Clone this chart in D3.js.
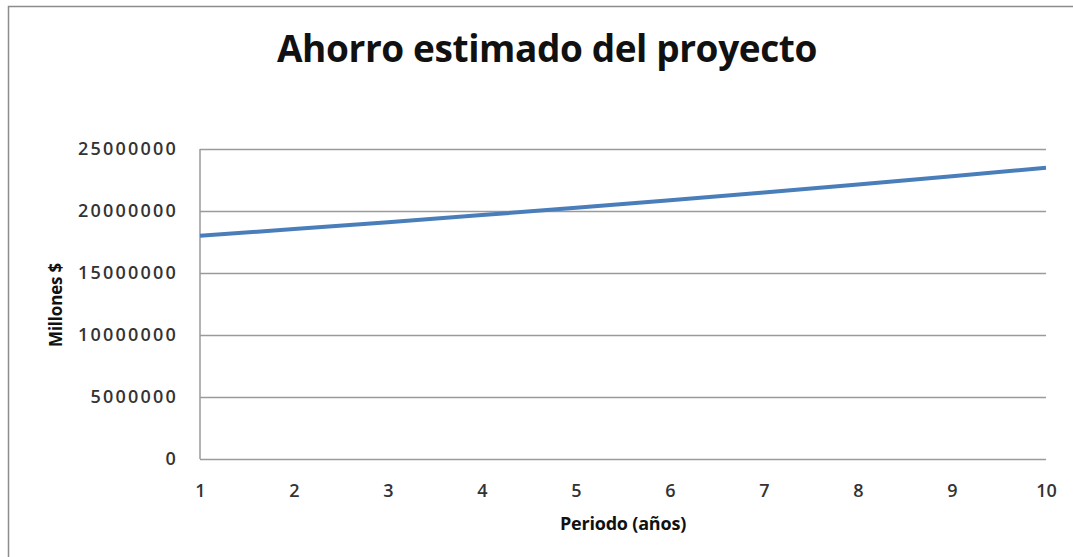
<!DOCTYPE html>
<html><head><meta charset="utf-8">
<script src="https://cdn.jsdelivr.net/npm/d3@7"></script>
<style>body{margin:0;background:#fff;} svg{display:block;}</style>
</head><body>
<svg id="c" width="1073" height="557"></svg>
<script>
const periods = [1,2,3,4,5,6,7,8,9,10];
const savings = [18000000,18540000,19100000,19670000,20260000,20870000,21490000,22140000,22800000,23490000];
const yTicks = [0,5000000,10000000,15000000,20000000,25000000];
const titleText = "Ahorro estimado del proyecto";
const xLabel = "Periodo (años)";
const yLabel = "Millones $";

const svg = d3.select("#c");
const m = {l:200, r:1046, t:149, b:459};
const x = d3.scaleLinear().domain([1,10]).range([m.l,m.r]);
const y = d3.scaleLinear().domain([0,25000000]).range([m.b,m.t]);

// outer frame
svg.append("path").attr("d","M8.5,557 L8.5,6.5 L1073,6.5").attr("fill","none").attr("stroke","#8c8c8c").attr("stroke-width",1.5);

svg.append("text").attr("x",547).attr("y",62).attr("text-anchor","middle")
  .attr("font-family","Open Sans, sans-serif").attr("font-size",37).attr("font-weight",700)
  .attr("fill","#111").attr("letter-spacing",-0.4).text(titleText);

// gridlines
const ya = d3.axisLeft(y).tickValues(yTicks).tickSize(-(m.r-m.l)).tickPadding(22).tickFormat(d3.format("d"));
const gy = svg.append("g").attr("transform",`translate(${m.l},0)`).call(ya);
gy.select(".domain").remove();
gy.selectAll(".tick line").attr("stroke","#9a9a9a").attr("stroke-width",1.5);
gy.selectAll(".tick text").attr("font-family","Open Sans, sans-serif").attr("font-size",18).attr("fill","#333").attr("font-weight",600).attr("letter-spacing",2.2);

// left axis line
svg.append("line").attr("x1",m.l).attr("x2",m.l).attr("y1",m.t).attr("y2",m.b).attr("stroke","#9a9a9a").attr("stroke-width",1.5);

const xa = d3.axisBottom(x).tickValues(periods).tickSize(0).tickPadding(25).tickFormat(d3.format("d"));
const gx = svg.append("g").attr("transform",`translate(0,${m.b})`).call(xa);
gx.select(".domain").remove();
gx.selectAll(".tick text").attr("font-family","Open Sans, sans-serif").attr("font-size",18).attr("fill","#333").attr("font-weight",600);

const line = d3.line().x((d,i)=>x(periods[i])).y(d=>y(d));
svg.append("path").datum(savings).attr("d",line).attr("fill","none").attr("stroke","#4a7ebb").attr("stroke-width",4);

svg.append("text").attr("x",623).attr("y",530).attr("text-anchor","middle")
  .attr("font-family","Open Sans, sans-serif").attr("font-size",18).attr("font-weight",700)
  .attr("fill","#111").attr("letter-spacing",-0.2).text(xLabel);

svg.append("text").attr("transform","translate(62,305) rotate(-90)").attr("text-anchor","middle")
  .attr("font-family","Open Sans, sans-serif").attr("font-size",17).attr("font-weight",700)
  .attr("fill","#111").attr("letter-spacing",-0.2).text(yLabel);
</script>
</body></html>
